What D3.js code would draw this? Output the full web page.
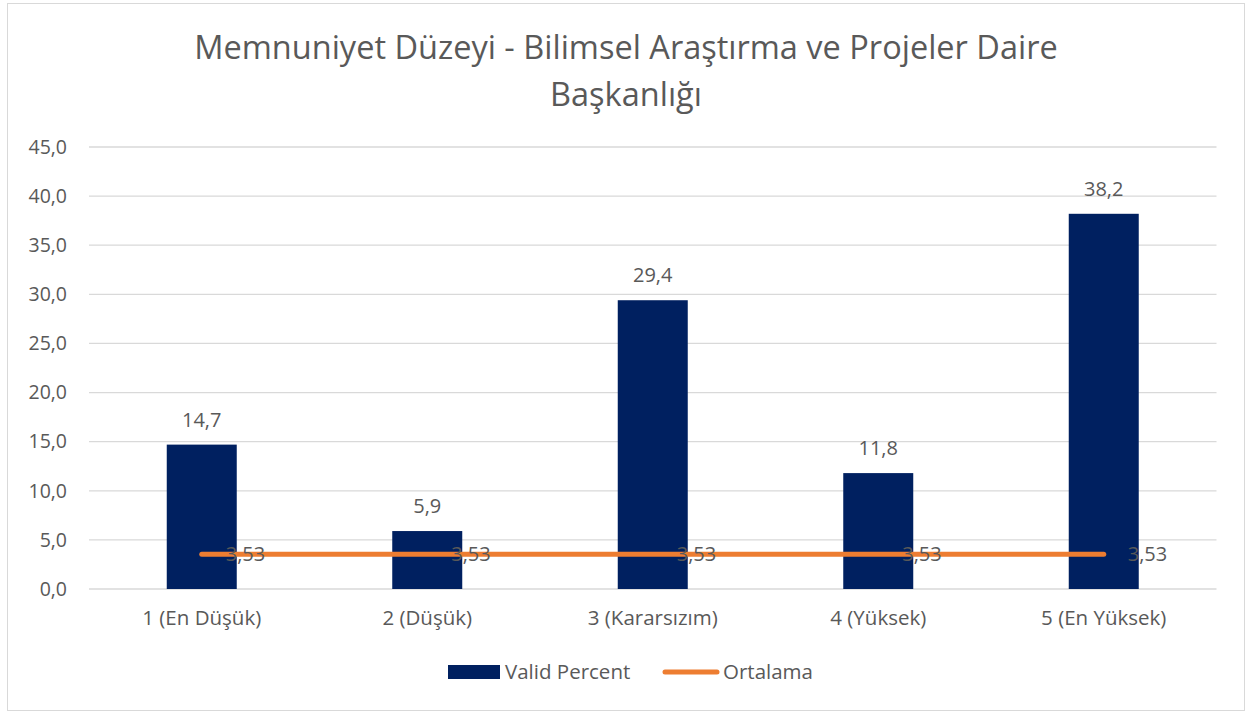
<!DOCTYPE html>
<html>
<head>
<meta charset="utf-8">
<script src="https://cdn.jsdelivr.net/npm/d3@7"></script>
<style>
  body { margin: 0; background: #fff; }
  text { font-family: "Open Sans", "Noto Sans", sans-serif; fill: #595959; }
</style>
</head>
<body>
<div class="chart"></div>
<script>
var categories = ["1 (En Düşük)", "2 (Düşük)", "3 (Kararsızım)", "4 (Yüksek)", "5 (En Yüksek)"];
var validPercent = [14.7, 5.9, 29.4, 11.8, 38.2];
var ortalama = [3.53, 3.53, 3.53, 3.53, 3.53];
var yTicks = [0, 5, 10, 15, 20, 25, 30, 35, 40, 45];
var titleLines = ["Memnuniyet Düzeyi - Bilimsel Araştırma ve Projeler Daire", "Başkanlığı"];

var W = 1247, H = 713;
var margin = {top: 147, right: 30, bottom: 124, left: 89},
    width = 1216.5 - margin.left,
    height = 589 - margin.top;

var comma1 = function(v) { return d3.format(".1f")(v).replace(".", ","); };
var comma2 = function(v) { return d3.format(".2f")(v).replace(".", ","); };

var svg = d3.select(".chart")
    .append("svg")
    .attr("width", W)
    .attr("height", H);

// chart border
svg.append("rect")
    .attr("x", 7.5).attr("y", 3.5)
    .attr("width", 1237).attr("height", 707)
    .attr("fill", "#fff")
    .attr("stroke", "#d9d9d9");

// title
svg.append("g").selectAll("text")
    .data(titleLines)
    .enter().append("text")
    .attr("x", 626)
    .attr("y", function(d, i) { return 59 + i * 47; })
    .attr("text-anchor", "middle")
    .style("font-size", "32.5px")
    .text(function(d) { return d; });

var g = svg.append("g")
    .attr("transform", "translate(" + margin.left + "," + margin.top + ")");

var x = d3.scaleBand().domain(categories).range([0, width]);
var y = d3.scaleLinear().domain([0, 45]).range([height, 0]);

// gridlines
g.append("g")
    .selectAll("line")
    .data(yTicks)
    .enter().append("line")
    .attr("x1", 0).attr("x2", width)
    .attr("y1", function(d) { return y(d); })
    .attr("y2", function(d) { return y(d); })
    .attr("stroke", "#d9d9d9")
    .attr("stroke-width", 1.3);

// y axis
var yAxis = d3.axisLeft(y).tickValues(yTicks).tickSize(0).tickPadding(22).tickFormat(comma1);
g.append("g")
    .attr("class", "y axis")
    .call(yAxis)
    .call(function(a) { a.select(".domain").remove(); })
    .selectAll("text")
    .style("font-size", "19.5px")
    .attr("fill", "#595959");

// x axis
var xAxis = d3.axisBottom(x).tickSize(0).tickPadding(21);
g.append("g")
    .attr("class", "x axis")
    .attr("transform", "translate(0," + height + ")")
    .call(xAxis)
    .call(function(a) { a.select(".domain").remove(); })
    .selectAll("text")
    .style("font-size", "20.5px")
    .attr("fill", "#595959");

var barW = 70;

// bars
g.selectAll(".bar")
    .data(validPercent)
    .enter().append("rect")
    .attr("class", "bar")
    .attr("x", function(d, i) { return x(categories[i]) + x.bandwidth() / 2 - barW / 2; })
    .attr("y", function(d) { return y(d); })
    .attr("width", barW)
    .attr("height", function(d) { return height - y(d); })
    .attr("fill", "#002060");

// bar labels
g.selectAll(".barlabel")
    .data(validPercent)
    .enter().append("text")
    .attr("class", "barlabel")
    .attr("x", function(d, i) { return x(categories[i]) + x.bandwidth() / 2; })
    .attr("y", function(d) { return y(d) - 18; })
    .attr("text-anchor", "middle")
    .style("font-size", "20px")
    .attr("fill", "#404040")
    .text(comma1);

// average line
var line = d3.line()
    .x(function(d, i) { return x(categories[i]) + x.bandwidth() / 2; })
    .y(function(d) { return y(d); });

g.append("path")
    .attr("d", line(ortalama))
    .attr("fill", "none")
    .attr("stroke", "#ed7d31")
    .attr("stroke-width", 5)
    .attr("stroke-linecap", "round");

g.selectAll(".linelabel")
    .data(ortalama)
    .enter().append("text")
    .attr("class", "linelabel")
    .attr("x", function(d, i) { return x(categories[i]) + x.bandwidth() / 2 + 24; })
    .attr("y", function(d) { return y(d); })
    .attr("dy", "0.35em")
    .style("font-size", "20px")
    .attr("fill", "#404040")
    .text(comma2);

// legend
var legend = svg.append("g").attr("transform", "translate(0,672)");
legend.append("rect")
    .attr("x", 448).attr("y", -7)
    .attr("width", 52).attr("height", 14)
    .attr("fill", "#002060");
legend.append("text")
    .attr("x", 505).attr("dy", "0.35em")
    .style("font-size", "20.5px")
    .text("Valid Percent");
legend.append("line")
    .attr("x1", 665).attr("x2", 717)
    .attr("stroke", "#ed7d31")
    .attr("stroke-width", 5)
    .attr("stroke-linecap", "round");
legend.append("text")
    .attr("x", 723).attr("dy", "0.35em")
    .style("font-size", "20.5px")
    .text("Ortalama");
</script>
</body>
</html>
